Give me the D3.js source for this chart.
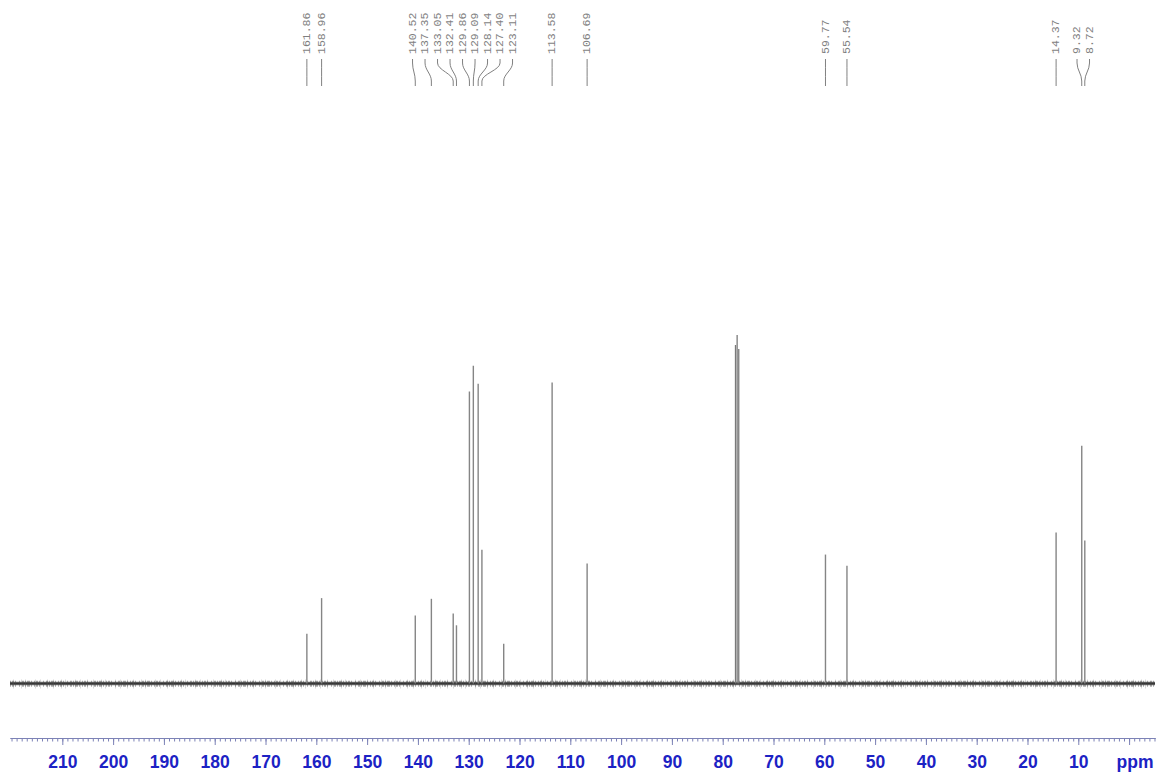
<!DOCTYPE html>
<html>
<head>
<meta charset="utf-8">
<script src="https://cdn.jsdelivr.net/npm/d3@7"></script>
<style>
  html, body { margin: 0; padding: 0; background: #ffffff; }
  svg { display: block; }
</style>
</head>
<body>
<svg id="chart" width="1157" height="774"></svg>
<script>
// ---- data (13C NMR, ppm) ----
const peakPpm    = [161.86, 158.96, 140.52, 137.35, 133.05, 132.41, 129.86, 129.09, 128.14, 127.40, 123.11, 113.58, 106.69, 59.77, 55.54, 14.37, 9.32, 8.72];
const peakHeight = [14.3,   24.5,   19.5,   24.3,   20.1,   16.7,   83.8,   91.2,   86.0,   38.4,   11.4,   86.4,   34.4,   37.0,  33.8,  43.3,  68.2, 41.0];
const solventPpm    = [77.48, 77.16, 76.84];
const solventHeight = [97.1, 100.0, 96.0];
const tickLabels = [210, 200, 190, 180, 170, 160, 150, 140, 130, 120, 110, 100, 90, 80, 70, 60, 50, 40, 30, 20, 10];
const axisUnit = "ppm";

// ---- layout ----
const svg = d3.select("#chart");
const x = d3.scaleLinear().domain([220.3, -5.1]).range([10, 1155]);
const y = d3.scaleLinear().domain([0, 100]).range([683.5, 335]);
const axisY = 738;

// ---- baseline (noise band look, pure styling) ----
const base = svg.append("g");
const x0 = x(220.3), x1 = x(-5.1);
function bandLine(dy, color, width, opacity, dash, offset) {
  const l = base.append("line")
    .attr("x1", x0).attr("x2", x1)
    .attr("y1", y(0) + dy).attr("y2", y(0) + dy)
    .attr("stroke", color).attr("stroke-width", width).attr("stroke-opacity", opacity);
  if (dash) l.attr("stroke-dasharray", dash).attr("stroke-dashoffset", offset || 0);
}
bandLine(0, "#9a9a9a", 5, 0.35);
bandLine(0, "#333", 2.4, 1);
bandLine(0.3, "#444", 6, 0.45, "1 1 2 1 1 3 1 2 2 1 1 1 3 1 1 2", 0);
bandLine(0.5, "#555", 9, 0.22, "1 5 1 7 1 3 1 9 1 4 1 6", 3);

// ---- peaks ----
const peaks = peakPpm.map((p, i) => ({ppm: p, h: peakHeight[i]}));
const solvent = solventPpm.map((p, i) => ({ppm: p, h: solventHeight[i]}));

svg.append("g").selectAll("line.sol").data(solvent).join("line")
  .attr("class", "sol")
  .attr("x1", d => x(d.ppm)).attr("x2", d => x(d.ppm))
  .attr("y1", y(0)).attr("y2", d => y(d.h))
  .attr("stroke", "#7a7a7a").attr("stroke-width", 1.3);

svg.append("g").selectAll("line.pk").data(peaks).join("line")
  .attr("class", "pk")
  .attr("x1", d => x(d.ppm)).attr("x2", d => x(d.ppm))
  .attr("y1", y(0)).attr("y2", d => y(d.h))
  .attr("stroke", "#858585").attr("stroke-width", 1.4);

// ---- peak labels with spread layout ----
const sp = 12.5;
const sorted = peaks.map(d => ({...d, px: x(d.ppm)})).sort((a, b) => a.px - b.px);
let clusters = [];
sorted.forEach(d => {
  clusters.push({items: [d], center: d.px});
  while (clusters.length > 1) {
    const a = clusters[clusters.length - 2], b = clusters[clusters.length - 1];
    const aEnd = a.center + (a.items.length - 1) / 2 * sp;
    const bStart = b.center - (b.items.length - 1) / 2 * sp;
    if (bStart - aEnd < sp) {
      const items = a.items.concat(b.items);
      clusters.splice(clusters.length - 2, 2, {items, center: d3.mean(items, t => t.px)});
    } else break;
  }
});
const labels = [];
clusters.forEach(c => {
  c.items.forEach((d, i) => {
    labels.push({...d, lx: c.center + (i - (c.items.length - 1) / 2) * sp});
  });
});

const lab = svg.append("g");
lab.selectAll("path").data(labels).join("path")
  .attr("d", d => `M${d.lx},59 L${d.lx},63 C${d.lx},70 ${d.px},74 ${d.px},81 L${d.px},86`)
  .attr("fill", "none").attr("stroke", "#808080").attr("stroke-width", 1);

lab.selectAll("text").data(labels).join("text")
  .attr("transform", d => `translate(${d.lx - 0.8},54) rotate(-90)`)
  .attr("dy", "0.35em")
  .attr("text-anchor", "start")
  .attr("font-family", "'Liberation Mono', 'DejaVu Sans Mono', monospace")
  .attr("font-size", 11.5)
  .attr("fill", "#7f7f7f")
  .text(d => d.ppm.toFixed(2));

// ---- axis ----
const axisColor = "#7c82b6";
const minor = svg.append("g").attr("transform", `translate(0,${axisY})`)
  .call(d3.axisBottom(x).tickValues(d3.range(-5, 221, 1)).tickSize(3.5).tickSizeOuter(0).tickFormat(""));
const major = svg.append("g").attr("transform", `translate(0,${axisY})`)
  .call(d3.axisBottom(x).tickValues([0].concat(tickLabels)).tickSize(7).tickSizeOuter(0)
    .tickFormat(d => d === 0 ? "" : String(d)));
[minor, major].forEach(g => {
  g.selectAll("path, line").attr("stroke", axisColor).attr("stroke-width", 1);
});
major.select("path.domain").attr("stroke-width", 1.2);
major.selectAll("text")
  .attr("y", 17.7).attr("dy", "0.71em")
  .attr("font-family", "'Liberation Sans', Arial, sans-serif")
  .attr("font-weight", "bold").attr("font-size", 17.5)
  .attr("fill", "#1c22c4");

svg.append("text")
  .attr("x", x(0) + 6).attr("y", axisY + 17.7).attr("dy", "0.71em")
  .attr("text-anchor", "middle")
  .attr("font-family", "'Liberation Sans', Arial, sans-serif")
  .attr("font-weight", "bold").attr("font-size", 17.5)
  .attr("fill", "#1c22c4")
  .text(axisUnit);
</script>
</body>
</html>
